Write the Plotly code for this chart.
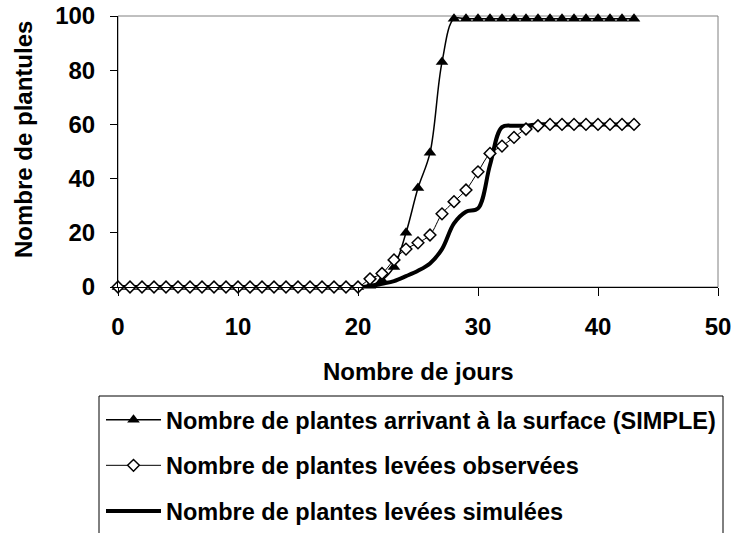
import plotly.graph_objects as go

# Days after sowing
jours = list(range(0, 44))

# Plants reaching the surface (SIMPLE model)
arrivant_surface = [0] * 21 + [0.5, 2.5, 7.4, 20, 36.5, 49.5, 83, 99] + [99] * 15

# Observed emerged plants
levees_observees = [0] * 21 + [3, 5, 10, 14, 16.3, 19.2, 27, 31.5, 35.8, 42.5,
                               49.3, 52, 55.2, 58.3, 59.5, 60] + [60] * 7

# Simulated emerged plants
levees_simulees = [0] * 21 + [0.3, 1.2, 2.2, 4, 6, 8.7, 14, 23.5, 27.8, 29,
                              45, 59, 59.5, 59.5] + [60] * 9

x_ticks = [0, 10, 20, 30, 40, 50]
y_ticks = [0, 20, 40, 60, 80, 100]

noms = [
    "Nombre de plantes arrivant à la surface (SIMPLE)",
    "Nombre de plantes levées observées",
    "Nombre de plantes levées simulées",
]

FONT = "Liberation Sans, Arial, sans-serif"

fig = go.Figure()

# thick simulated curve drawn first so markers sit on top of it
fig.add_trace(go.Scatter(
    x=jours, y=levees_simulees, name=noms[2], mode="lines",
    line=dict(color="black", width=4, shape="spline"),
    cliponaxis=False, legendrank=3, legendgroup="c",
))
fig.add_trace(go.Scatter(
    x=jours, y=arrivant_surface, name=noms[0], mode="lines+markers",
    line=dict(color="black", width=1.5, shape="spline"),
    marker=dict(symbol="triangle-up", size=11, color="black"),
    cliponaxis=False, legendrank=1, legendgroup="a",
))
fig.add_trace(go.Scatter(
    x=jours, y=levees_observees, name=noms[1], mode="lines+markers",
    line=dict(color="black", width=1, shape="spline"),
    marker=dict(symbol="diamond", size=9, color="white",
                line=dict(color="black", width=1.5)),
    cliponaxis=False, legendrank=2, legendgroup="b",
))

# grey plot-area frame (axes drawn over it in black)
fig.add_shape(type="rect", xref="paper", yref="paper", x0=0, x1=1, y0=0, y1=1,
              line=dict(color="#808080", width=1), layer="below")

# legend frame, running past the bottom edge of the figure
fig.add_shape(type="rect", xref="paper", yref="paper",
              x0=(99 - 118) / 600, x1=(723 - 118) / 600,
              y0=(287 - 560) / 271, y1=(287 - 396) / 271,
              line=dict(color="black", width=1), layer="below")

fig.add_annotation(text="Nombre de jours", xref="paper", yref="paper",
                   x=0.5, y=(287 - 371) / 271, xanchor="center", yanchor="middle",
                   showarrow=False, font=dict(family=FONT, size=24, color="black", weight="bold"))
fig.add_annotation(text="Nombre de plantules", xref="paper", yref="paper",
                   x=(23 - 118) / 600, y=(287 - 140) / 271, xanchor="center", yanchor="middle",
                   textangle=-90, showarrow=False,
                   font=dict(family=FONT, size=24, color="black", weight="bold"))

fig.update_xaxes(
    range=[0, 50], tickvals=x_ticks, ticktext=[str(v) for v in x_ticks],
    showgrid=False, zeroline=False, showline=True, linecolor="black", linewidth=1,
    ticks="outside", ticklen=8, tickcolor="black", ticklabelstandoff=10,
    tickfont=dict(family=FONT, size=24, color="black", weight="bold"),
)
fig.update_yaxes(
    range=[0, 100], tickvals=y_ticks, ticktext=[str(v) for v in y_ticks],
    showgrid=False, zeroline=False, showline=True, linecolor="black", linewidth=1,
    ticks="outside", ticklen=7, tickcolor="black", ticklabelstandoff=10,
    tickfont=dict(family=FONT, size=24, color="black", weight="bold"),
)

fig.update_layout(
    width=739, height=533,
    margin=dict(l=118, r=21, t=16, b=246, autoexpand=False),
    plot_bgcolor="white", paper_bgcolor="white",
    showlegend=True,
    legend=dict(
        x=(101 - 118) / 600, y=(287 - 398) / 271, xanchor="left", yanchor="top",
        bgcolor="rgba(0,0,0,0)", borderwidth=0,
        font=dict(family=FONT, size=23.5, color="black", weight="bold"),
        itemwidth=55, tracegroupgap=12, traceorder="grouped",
    ),
)

fig.write_html("out.html")
